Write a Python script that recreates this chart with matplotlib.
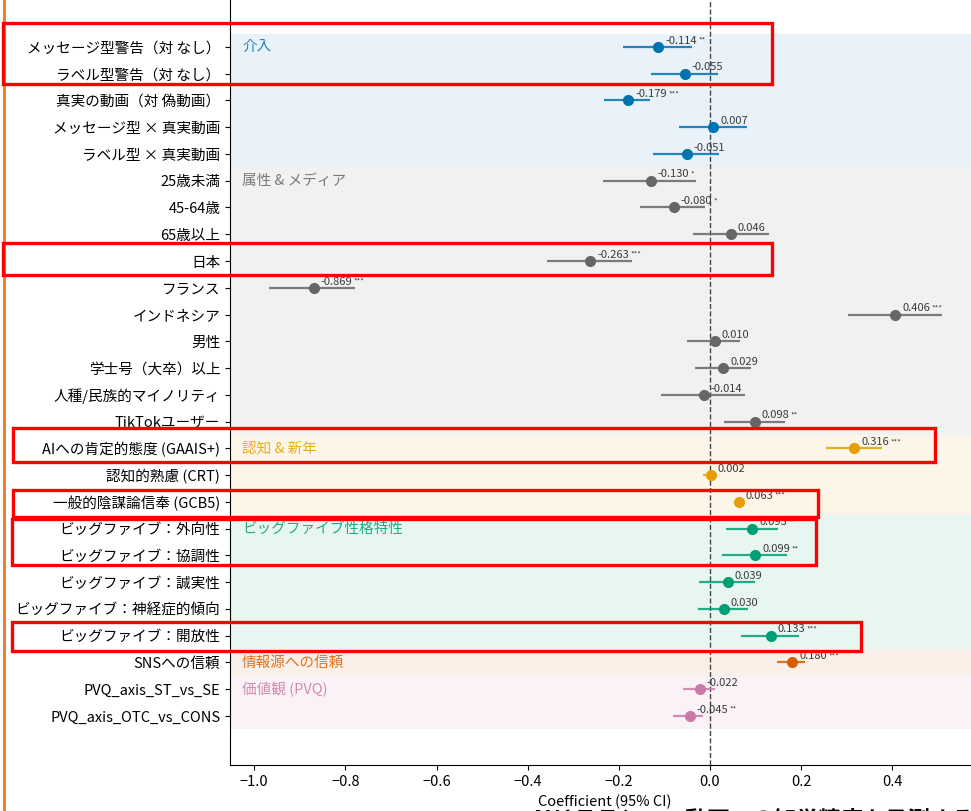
import numpy as np
import matplotlib.pyplot as plt
from matplotlib.patches import Rectangle
from matplotlib.lines import Line2D

plt.rcParams['font.family'] = ['Noto Sans CJK JP', 'DejaVu Sans']

# 変数名（上から順）
labels = [
    'メッセージ型警告（対 なし）', 'ラベル型警告（対 なし）', '真実の動画（対 偽動画）',
    'メッセージ型 × 真実動画', 'ラベル型 × 真実動画',
    '25歳未満', '45-64歳', '65歳以上', '日本', 'フランス', 'インドネシア',
    '男性', '学士号（大卒）以上', '人種/民族的マイノリティ', 'TikTokユーザー',
    'AIへの肯定的態度 (GAAIS+)', '認知的熟慮 (CRT)', '一般的陰謀論信奉 (GCB5)',
    'ビッグファイブ：外向性', 'ビッグファイブ：協調性', 'ビッグファイブ：誠実性',
    'ビッグファイブ：神経症的傾向', 'ビッグファイブ：開放性',
    'SNSへの信頼', 'PVQ_axis_ST_vs_SE', 'PVQ_axis_OTC_vs_CONS',
]
coef = [-0.114, -0.055, -0.179, 0.007, -0.051,
        -0.130, -0.080, 0.046, -0.263, -0.869, 0.406,
        0.010, 0.029, -0.014, 0.098,
        0.316, 0.002, 0.063,
        0.093, 0.099, 0.039, 0.030, 0.133,
        0.180, -0.022, -0.045]
ci_low = [-0.191, -0.129, -0.232, -0.068, -0.125,
          -0.235, -0.154, -0.037, -0.357, -0.967, 0.303,
          -0.050, -0.033, -0.107, 0.031,
          0.254, -0.015, 0.055,
          0.035, 0.026, -0.024, -0.026, 0.068,
          0.147, -0.059, -0.081]
ci_high = [-0.039, 0.018, -0.132, 0.081, 0.020,
           -0.031, -0.011, 0.129, -0.171, -0.778, 0.509,
           0.066, 0.090, 0.077, 0.164,
           0.377, 0.015, 0.071,
           0.149, 0.169, 0.099, 0.083, 0.195,
           0.208, 0.011, -0.015]
stars = ['**', '', '***', '', '',
         '*', '*', '', '***', '***', '***',
         '', '', '', '**',
         '***', '', '***',
         '**', '**', '', '', '***',
         '***', '', '**']

group_names = ['介入', '属性 & メディア', '認知 & 新年', 'ビッグファイブ性格特性',
               '情報源への信頼', '価値観 (PVQ)']
group_sizes = [5, 10, 3, 5, 1, 2]
group_colors = ['#0072B2', '#666666', '#E69F00', '#009E73', '#D55E00', '#CC79A7']

fig = plt.figure(figsize=(9.71, 8.11), dpi=100)
ax = fig.add_axes([230 / 971, 46 / 811, 749 / 971, 785 / 811])

y = np.arange(len(labels))
start = 0
for name, size, col in zip(group_names, group_sizes, group_colors):
    idx = slice(start, start + size)
    ax.axhspan(start - 0.5, start + size - 0.5, color=col, alpha=0.09, lw=0, zorder=0)
    ax.hlines(y[idx], np.array(ci_low[idx]), np.array(ci_high[idx]),
              color=col, lw=1.6, alpha=0.85, zorder=2)
    ax.plot(coef[idx], y[idx], 'o', color=col, ms=7, zorder=3)
    ax.text(0.016, start, name, transform=ax.get_yaxis_transform(),
            color=col, alpha=0.85, fontsize=10.5, va='center', ha='left')
    start += size

# 係数ラベル（有意水準の星つき）
for i, (c, s) in enumerate(zip(coef, stars)):
    t = ax.annotate(f'{c:.3f}', (c, i), xytext=(5, 4.5), textcoords='offset points',
                    fontsize=8, color='#3a3a3a', va='center', ha='left', zorder=4)
    if s:
        ax.annotate(s, xy=(1, 1), xycoords=t, xytext=(1, -1), textcoords='offset points',
                    fontsize=5.5, color='#3a3a3a', va='top', ha='left', zorder=4)

ax.axvline(0, color='#444444', lw=1, ls='--', zorder=1)

ax.set_yticks(y)
ax.set_yticklabels(labels, fontsize=10.5)
ax.set_ylim(26.83, -2.5)
ax.set_xlim(-1.053, 0.59)
ax.set_xticks([-1.0, -0.8, -0.6, -0.4, -0.2, 0.0, 0.2, 0.4])
ax.tick_params(axis='x', labelsize=10.5)
ax.set_xlabel('Coefficient (95% CI)', fontsize=10.5, labelpad=4)
for sp in ['top', 'right']:
    ax.spines[sp].set_visible(False)

fig.text(530 / 971, 3 / 811, 'AIリテラシー・動画への知覚精度を予測する主な要因',
         fontsize=16, fontweight='bold', va='top', ha='left')

# 左端の縦線
fig.add_artist(Line2D([3.5 / 971, 3.5 / 971], [0, 1], color='#F08030', lw=2.2))

# 強調枠
boxes = [(3, 23, 772, 84), (3, 243, 772, 275), (13, 428, 935, 462),
         (13, 490, 818, 517), (12, 519, 816, 565), (12, 622, 861, 651)]
for x0, y0, x1, y1 in boxes:
    fig.add_artist(Rectangle((x0 / 971, 1 - y1 / 811), (x1 - x0) / 971, (y1 - y0) / 811,
                             transform=fig.transFigure, fill=False,
                             edgecolor='#FF0000', lw=2.4, zorder=10))

fig.savefig('out.png', dpi=100)
